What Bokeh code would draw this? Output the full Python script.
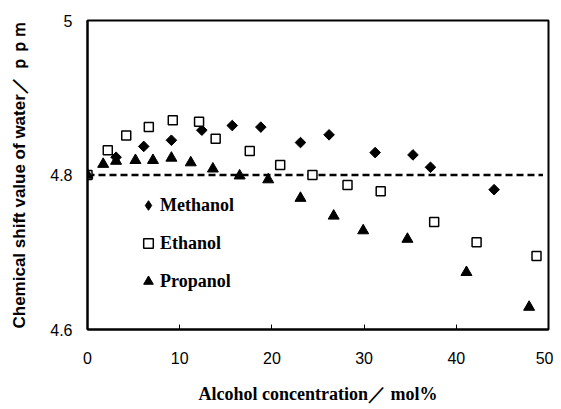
import numpy as np
from bokeh.plotting import figure
from bokeh.models import Range1d, FixedTicker, Legend, LegendItem
from bokeh.embed import file_html
from bokeh.resources import INLINE

# ---- data ----
methanol_x = [0, 3.1, 6.1, 9.1, 12.4, 15.7, 18.8, 23.1, 26.2, 31.2, 35.3, 37.2, 44.1]
methanol_y = [4.800, 4.823, 4.837, 4.845, 4.858, 4.864, 4.862, 4.842, 4.852, 4.829, 4.826, 4.810, 4.781]

ethanol_x = [0, 2.2, 4.2, 6.65, 9.25, 12.1, 13.9, 17.6, 20.9, 24.4, 28.2, 31.8, 37.6, 42.2, 48.7]
ethanol_y = [4.800, 4.832, 4.851, 4.862, 4.871, 4.869, 4.847, 4.831, 4.813, 4.800, 4.787, 4.779, 4.739, 4.713, 4.695]

propanol_x = [0, 1.7, 3.1, 5.2, 7.1, 9.1, 11.2, 13.6, 16.5, 19.6, 23.1, 26.7, 29.9, 34.7, 41.1, 47.9]
propanol_y = [4.800, 4.814, 4.818, 4.819, 4.819, 4.822, 4.816, 4.808, 4.799, 4.794, 4.770, 4.747, 4.728, 4.717, 4.674, 4.629]

reference_y = 4.8
reference_x_end = 49.4
x_ticks = [0, 10, 20, 30, 40, 50]
y_ticks = [4.6, 4.8, 5.0]
y_tick_labels = {4.6: "4.6", 4.8: "4.8", 5.0: "5"}

x_title = "Alcohol concentration／ mol%"
y_title = "Chemical shift value of water／ ｐｐｍ"
series_names = ["Methanol", "Ethanol", "Propanol"]

# ---- figure ----
p = figure(width=553, height=409, output_backend="svg", toolbar_location=None,
           x_range=Range1d(0, 50), y_range=Range1d(4.6, 5.0),
           min_border_left=87, min_border_right=5, min_border_top=20, min_border_bottom=80)
p.background_fill_color = "white"
p.border_fill_color = "white"
p.outline_line_color = "black"
p.outline_line_width = 2
p.xgrid.visible = False
p.ygrid.visible = False

# axes
p.xaxis.ticker = FixedTicker(ticks=x_ticks)
p.yaxis.ticker = FixedTicker(ticks=y_ticks)
p.yaxis.major_label_overrides = y_tick_labels
for ax in (p.xaxis[0], p.yaxis[0]):
    ax.axis_line_color = "black"
    ax.axis_line_width = 2
    ax.major_tick_line_color = "black"
    ax.major_tick_line_width = 1
    ax.minor_tick_line_color = None
    ax.major_label_text_font = "Liberation Sans"
    ax.major_label_text_font_size = "16px"
    ax.major_label_text_color = "black"
p.xaxis.major_tick_in = 5
p.xaxis.major_tick_out = 0
p.yaxis.major_tick_in = 0
p.yaxis.major_tick_out = 0
p.xaxis.major_label_standoff = 22
p.yaxis.major_label_standoff = 15

p.xaxis.axis_label = x_title
p.xaxis.axis_label_text_font = "Liberation Serif"
p.xaxis.axis_label_text_font_style = "bold"
p.xaxis.axis_label_text_font_size = "18px"
p.xaxis.axis_label_text_color = "black"
p.xaxis.axis_label_standoff = 17

p.yaxis.axis_label = y_title
p.yaxis.axis_label_text_font = "Liberation Sans"
p.yaxis.axis_label_text_font_style = "bold"
p.yaxis.axis_label_text_font_size = "17px"
p.yaxis.axis_label_text_color = "black"
p.yaxis.axis_label_standoff = 18

# dashed reference line at 4.8
p.line(x=[x_ticks[0], reference_x_end], y=[reference_y, reference_y], line_color="black",
       line_width=2.5, line_dash="7 4")

# methanol shown as rotated squares (diamonds); a diamond glyph at the first point serves the legend
r_m_leg = p.scatter(methanol_x[:1], methanol_y[:1], marker="diamond", size=9,
                    fill_color="black", line_color="black")
r_m = p.scatter(methanol_x, methanol_y, marker="square", angle=np.pi / 4, size=7.5,
                fill_color="black", line_color="black")
r_e = p.scatter(ethanol_x, ethanol_y, marker="square", size=9,
                fill_color="white", line_color="black", line_width=1.5)
r_p = p.scatter(propanol_x, propanol_y, marker="triangle", size=11,
                fill_color="black", line_color="black")

legend = Legend(items=[LegendItem(label=series_names[0], renderers=[r_m_leg]),
                       LegendItem(label=series_names[1], renderers=[r_e]),
                       LegendItem(label=series_names[2], renderers=[r_p])],
                location=(49, 36), orientation="vertical",
                border_line_color=None, background_fill_alpha=0,
                padding=0, margin=0, spacing=14,
                glyph_width=24, glyph_height=24, label_height=24, label_standoff=0,
                label_text_font="Liberation Serif", label_text_font_style="bold",
                label_text_font_size="18px", label_text_color="black")
p.add_layout(legend, "center")

open("out.html", "w").write(file_html(p, INLINE))
